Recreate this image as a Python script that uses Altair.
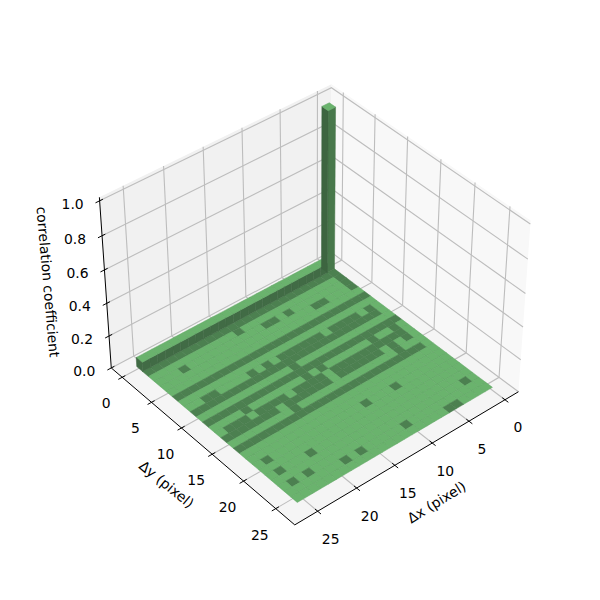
import numpy as np
import altair as alt

ELEV, AZIM = 40.0, 50.0
XLIM = (-1.896, 27.896); YLIM = (-1.896, 27.896); ZLIM = (0.0, 1.02)
N = 26
FLOOR = 0.018
WALL = 0.075
PEAK = 1.0
x_ticks = [0, 5, 10, 15, 20, 25]
y_ticks = [0, 5, 10, 15, 20, 25]
z_ticks = [0.0, 0.2, 0.4, 0.6, 0.8, 1.0]
z_tick_labels = ["0.0", "0.2", "0.4", "0.6", "0.8", "1.0"]

def rng(a, b):
    return list(range(a, b + 1))

# dark cells: row (dy) -> position counted from the far dx end (25 - dx)
dark_rows = {
    1: rng(0, 25),
    2: [11, 25],
    3: [3, 14, 15, 17, 25],
    4: [20, 21, 25],
    6: rng(0, 25),
    8: [2, 3, 8, 10] + rng(12, 17) + rng(19, 22) + [24],
    9: rng(0, 24),
    10: [12],
    11: rng(0, 25),
    12: [4, 12, 14, 21, 24],
    13: [1, 2, 3, 5, 6, 7, 8] + rng(10, 13) + rng(15, 24),
    14: rng(0, 6) + rng(8, 13) + rng(15, 20) + [22, 24],
    15: [8, 22],
    16: rng(0, 24),
    19: [1, 14, 18],
    21: [1, 5],
    23: [1, 3, 24],
    24: [7, 9, 15],
    25: [20, 21],
}

aspect = np.array([4., 4., 3.]); aspect = aspect * 1.8294640721620434 * 25/24 / np.linalg.norm(aspect)
R = aspect / 2
e, a = np.radians(ELEV), np.radians(AZIM)
d = np.array([np.cos(e)*np.cos(a), np.cos(e)*np.sin(a), np.sin(e)])
eye = R + 10*d
w = d
u = np.cross([0, 0, 1], w); u /= np.linalg.norm(u)
v = np.cross(w, u)

def P(x, y, z):
    p = np.array([(x-XLIM[0])/(XLIM[1]-XLIM[0]), (y-YLIM[0])/(YLIM[1]-YLIM[0]), (z-ZLIM[0])/(ZLIM[1]-ZLIM[0])])*aspect
    q = p - eye
    zz = -(w @ q)
    xs, ys = (u @ q)/zz, (v @ q)/zz
    sx = 76.5 + (xs+0.095)/0.185*462
    sy = 534 - (ys+0.095)/0.185*462
    return [round(float(sx-8), 2), round(float(sy-8), 2)]

xa, xb = XLIM; ya, yb = YLIM; za, zb = ZLIM
feats = []
def poly(pts, fill):
    c = [P(*p) for p in pts]; c.append(c[0])
    feats.append({"type": "Feature", "geometry": {"type": "Polygon", "coordinates": [c]},
                  "properties": {"fill": fill}})
poly([(xa,ya,za),(xb,ya,za),(xb,ya,zb),(xa,ya,zb)], "#f1f1f1")
poly([(xa,ya,za),(xa,yb,za),(xa,yb,zb),(xa,ya,zb)], "#f8f8f8")
poly([(xa,ya,za),(xb,ya,za),(xb,yb,za),(xa,yb,za)], "#f5f5f5")
base = alt.Chart(alt.Data(values=feats)).mark_geoshape().encode(
    fill=alt.Color("properties.fill:N", scale=None))

lines = []
def line(pts, kind):
    lines.append({"type": "Feature", "geometry": {"type": "LineString", "coordinates": [P(*p) for p in pts]},
                  "properties": {"kind": kind}})
for t in x_ticks:
    line([(t,yb,za),(t,ya,za),(t,ya,zb)], "g")
for t in y_ticks:
    line([(xb,t,za),(xa,t,za),(xa,t,zb)], "g")
for t in z_ticks:
    line([(xb,ya,t),(xa,ya,t),(xa,yb,t)], "g")
line([(xa,yb,za),(xb,yb,za)], "a")
line([(xb,ya,za),(xb,yb,za)], "a")
line([(xb,ya,za),(xb,ya,zb)], "a")
for t in x_ticks:
    line([(t,yb-0.4,za),(t,yb+0.5,za)], "a")
for t in y_ticks:
    line([(xb-0.4,t,za),(xb+0.5,t,za)], "a")
for t in z_ticks:
    line([(xb-0.4,ya,t),(xb+0.5,ya,t)], "a")
gl = alt.Chart(alt.Data(values=[f for f in lines if f["properties"]["kind"]=="g"])).mark_geoshape(filled=False, stroke="#bdbdbd", strokeWidth=1.1)
al = alt.Chart(alt.Data(values=[f for f in lines if f["properties"]["kind"]=="a"])).mark_geoshape(filled=False, stroke="#000000", strokeWidth=1.0)

bars = []
LIGHT, DARK, DARKER = "#6ab36d", "#4c8050", "#416b45"
def bpoly(pts, fill, stroke="#5ea563", sw=0.5):
    c = [P(*p) for p in pts]; c.append(c[0])
    bars.append({"type": "Feature", "geometry": {"type": "Polygon", "coordinates": [c]},
                 "properties": {"fill": fill, "stroke": stroke, "sw": sw}})
for i in range(N):
    for j in range(1, N):
        is_dark = (25 - i) in dark_rows.get(j, [])
        bpoly([(i,j,FLOOR),(i+1,j,FLOOR),(i+1,j+1,FLOOR),(i,j+1,FLOOR)],
              DARK if is_dark else LIGHT, "#477a4b" if is_dark else "#5ea563")
for i in range(1, N):
    bpoly([(i,1,FLOOR),(i+1,1,FLOOR),(i+1,1,WALL),(i,1,WALL)], DARKER, "#3f6843")
    bpoly([(i,0,WALL),(i+1,0,WALL),(i+1,1,WALL),(i,1,WALL)], LIGHT)
bpoly([(N,0,FLOOR),(N,1,FLOOR),(N,1,WALL),(N,0,WALL)], DARKER, DARKER)
bpoly([(0,1,FLOOR),(1,1,FLOOR),(1,1,PEAK),(0,1,PEAK)], "#48784b", "#48784b")
bpoly([(1,0,FLOOR),(1,1,FLOOR),(1,1,PEAK),(1,0,PEAK)], "#3d6540", "#3d6540")
bpoly([(0,0,PEAK),(1,0,PEAK),(1,1,PEAK),(0,1,PEAK)], LIGHT)
bar = alt.Chart(alt.Data(values=bars)).mark_geoshape().encode(
    fill=alt.Color("properties.fill:N", scale=None),
    stroke=alt.Color("properties.stroke:N", scale=None),
    strokeWidth=alt.StrokeWidth("properties.sw:Q", scale=None))

labs = []
for t in x_ticks:
    p = P(t, yb, za); labs.append({"px": p[0]+13, "py": p[1]+28.5, "t": str(t)})
for t in y_ticks:
    p = P(xb, t, za); labs.append({"px": p[0]-16, "py": p[1]+27, "t": str(t)})
for t, s in zip(z_ticks, z_tick_labels):
    p = P(xb, ya, t); labs.append({"px": p[0]-27, "py": p[1]+4, "t": s})
SC = alt.Scale(domain=[0, 584], range=[0, 584])
def text(data, **kw):
    return alt.Chart(alt.Data(values=data)).mark_text(font="DejaVu Sans", fontSize=13.9, color="#000000",
        align="center", baseline="middle", **kw).encode(
        x=alt.X("px:Q", scale=SC, axis=None), y=alt.Y("py:Q", scale=SC, axis=None), text="t:N")
tick_text = text(labs)
lab_x = text([{"px": 437-8, "py": 503-8, "t": "Δx (pixel)"}], angle=328)
lab_y = text([{"px": 166-8, "py": 485-8, "t": "Δy (pixel)"}], angle=39)
lab_z = text([{"px": 47-8, "py": 282-8, "t": "correlation coefficient"}], angle=85)

chart = (base + gl + al + bar + tick_text + lab_x + lab_y + lab_z).properties(width=584, height=584,
    padding=0, autosize=alt.AutoSizeParams(type="none"),
    projection=alt.Projection(type="identity", scale=1, translate=[0, 0])
    ).configure_view(stroke=None)
chart.save("out.html", embed_options={"renderer": "svg", "actions": False})
